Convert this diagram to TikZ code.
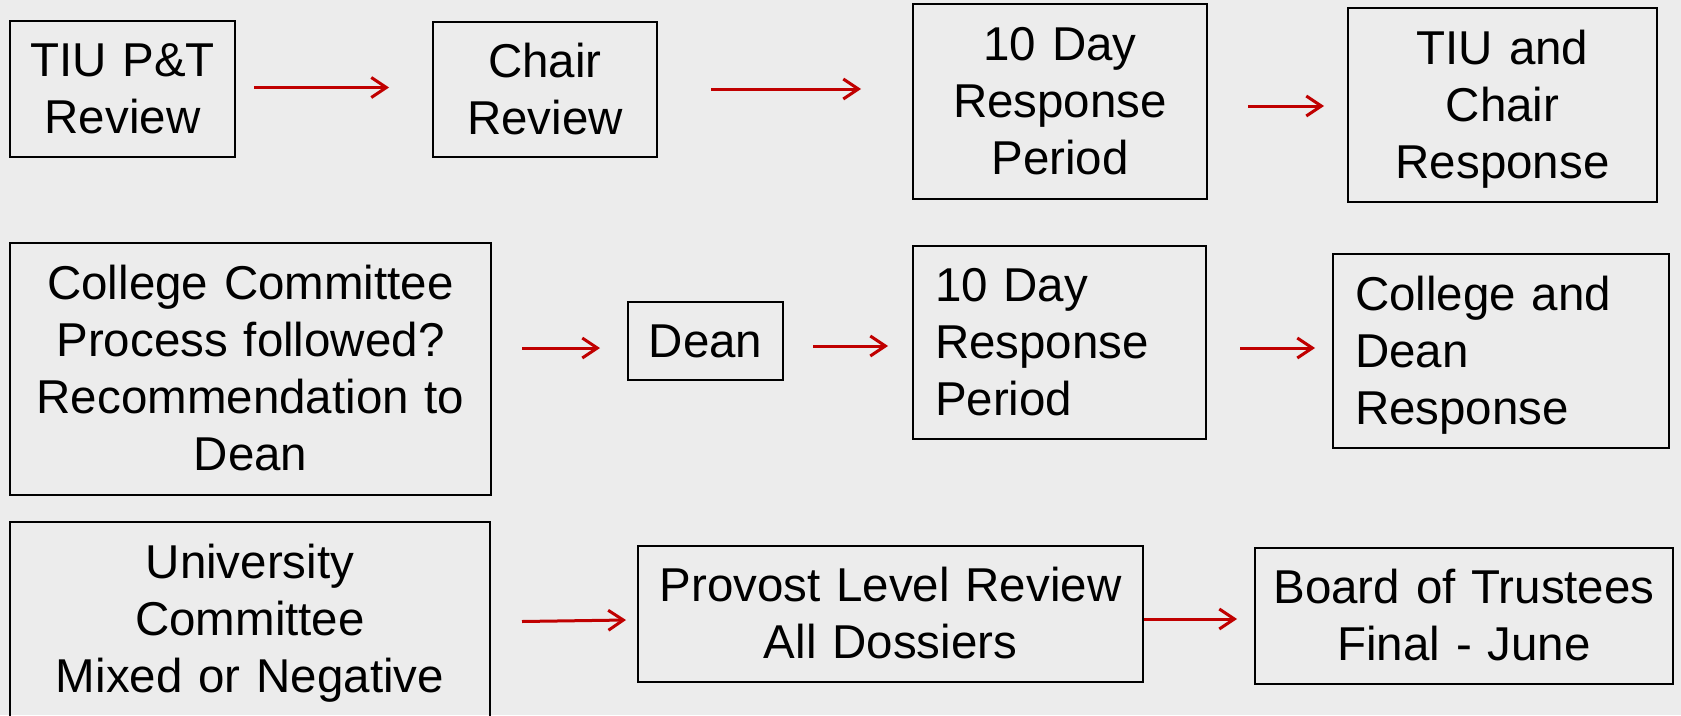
\documentclass[tikz,border=0pt]{standalone}
\usepackage{fontspec}
\setmainfont{Liberation Sans}
\usetikzlibrary{arrows.meta}
\definecolor{bg}{RGB}{236,236,236}
\definecolor{arrred}{RGB}{192,0,0}
\newcommand{\mystrut}{\rule[-10.1pt]{0pt}{53.1pt}}
\tikzset{
  box/.style={draw=black, line width=2pt, inner xsep=0pt, inner ysep=0pt,
    align=center, font={\fontsize{47.5}{57}\selectfont\spaceskip=\fontdimen2\font\relax\xspaceskip=\fontdimen2\font\relax},
    execute at begin node=\mystrut, execute at end node=\mystrut},
  lbox/.style={box, align=left, inner xsep=22pt},
  arr/.style={draw=arrred, line width=3pt, -{Straight Barb[length=15pt,width=20pt,line width=3pt]}}
}
\begin{document}
\begin{tikzpicture}[x=1pt,y=-1pt]
\useasboundingbox (0,0) rectangle (1681,715);
\fill[bg] (0,0) rectangle (1681,715);
\clip (0,0) rectangle (1681,715);
% row 1
\node[box, text width=225pt, minimum height=136pt] (n1) at (122.5,89) {TIU P\&T\\Review};
\node[box, text width=224pt, minimum height=135pt] (n2) at (545,89.5) {Chair\\Review};
\node[box, text width=294pt, minimum height=195pt] (n3) at (1060,101.5) {10 Day\\Response\\Period};
\node[box, text width=309pt, minimum height=194pt] (n4) at (1502.5,105) {TIU and\\Chair\\Response};
% row 2
\node[box, text width=481pt, minimum height=252pt] (n5) at (250.5,369) {College Committee\\Process followed?\\Recommendation to\\Dean};
\node[box, text width=155pt, minimum height=78pt] (n6) at (705.5,341) {Dean};
\node[lbox, text width=249pt, minimum height=193pt] (n7) at (1059.5,342.5) {10 Day\\Response\\Period};
\node[lbox, text width=292pt, minimum height=194pt] (n8) at (1501,351) {College and\\Dean\\Response};
% row 3
\node[box, text width=480pt, minimum height=195pt] (n9) at (250,619.5) {University\\Committee\\Mixed or Negative};
\node[box, text width=505pt, minimum height=136pt] (n10) at (890.5,614) {Provost Level Review\\All Dossiers};
\node[box, text width=418pt, minimum height=136pt] (n11) at (1464,616) {Board of Trustees\\Final - June};
% arrows
\draw[arr] ([shift={(18,-1.5)}]n1.east) -- ([shift={(-43,-2)}]n2.west);
\draw[arr] ([shift={(53,-0.5)}]n2.east) -- ([shift={(-51,-12.5)}]n3.west);
\draw[arr] ([shift={(40,4.5)}]n3.east) -- ([shift={(-23,1)}]n4.west);
\draw[arr] ([shift={(30,-21)}]n5.east) -- ([shift={(-27,7)}]n6.west);
\draw[arr] ([shift={(29,5)}]n6.east) -- ([shift={(-24,3.5)}]n7.west);
\draw[arr] ([shift={(33,5.5)}]n7.east) -- ([shift={(-17,-3)}]n8.west);
\draw[arr] ([shift={(31,2)}]n9.east) -- ([shift={(-11,6)}]n10.west);
\draw[arr] ([shift={(0,5)}]n10.east) -- ([shift={(-17,3)}]n11.west);
\end{tikzpicture}
\end{document}
